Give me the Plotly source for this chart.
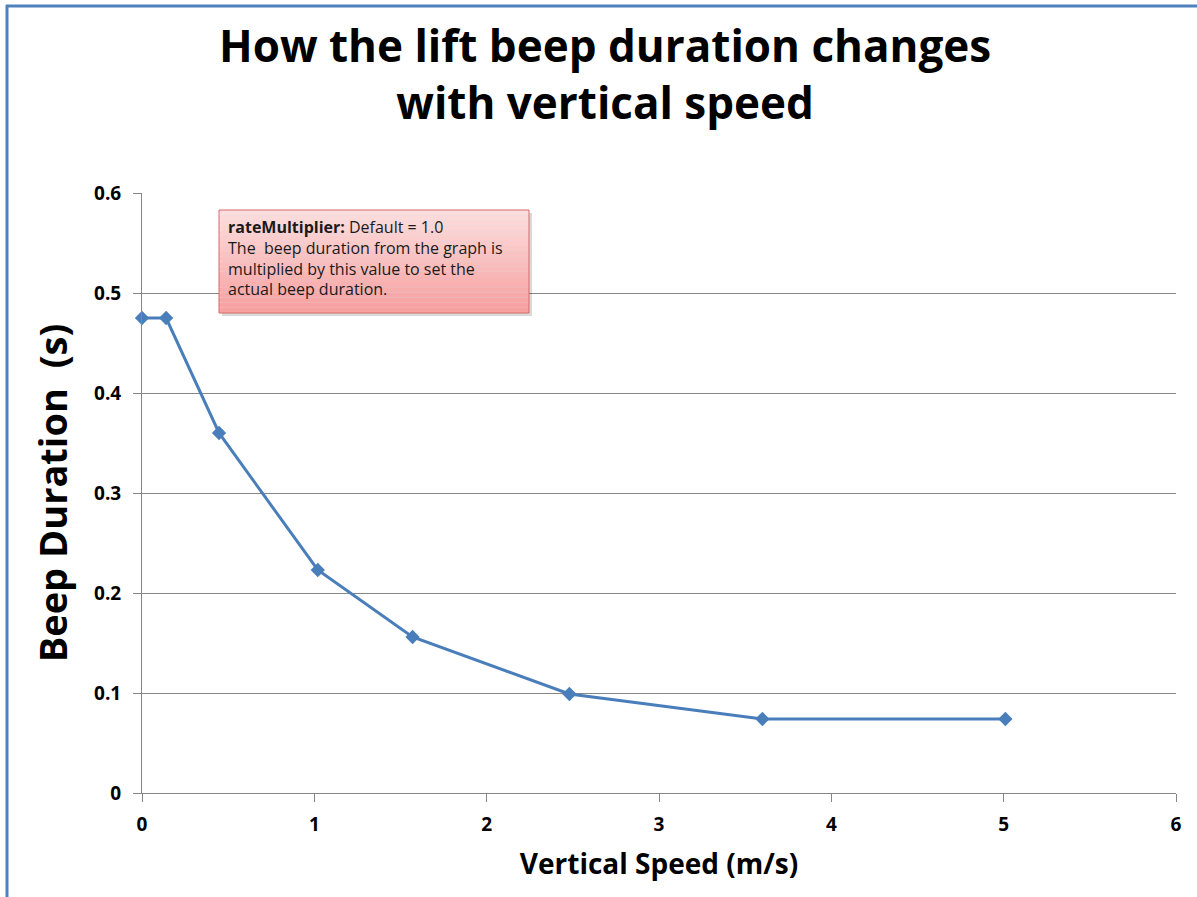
import plotly.graph_objects as go

speed = [0, 0.14, 0.447, 1.02, 1.57, 2.48, 3.6, 5.01]
duration = [0.475, 0.475, 0.36, 0.223, 0.156, 0.099, 0.074, 0.074]
x_ticks = [0, 1, 2, 3, 4, 5, 6]
y_ticks = [0, 0.1, 0.2, 0.3, 0.4, 0.5, 0.6]
y_tick_labels = ["0", "0.1", "0.2", "0.3", "0.4", "0.5", "0.6"]

W, H = 1197, 897
L, R, T, B = 142, 21, 193, 104
PW, PH = W - L - R, H - T - B

def px(xp):
    return (xp - L) / PW

def py(yp):
    return (H - B - yp) / PH

font = "'Open Sans', Lato, sans-serif"

fig = go.Figure()
fig.add_trace(go.Scatter(
    x=speed, y=duration, mode="lines+markers",
    line=dict(color="#4a7ebb", width=3),
    marker=dict(symbol="diamond", size=11, color="#4a7ebb"),
    showlegend=False, cliponaxis=False,
))

shapes = []
# outer border (top and left)
shapes.append(dict(type="line", xref="paper", yref="paper", x0=px(6), x1=px(1197), y0=py(6), y1=py(6),
                   line=dict(color="#4f81bd", width=3)))
shapes.append(dict(type="line", xref="paper", yref="paper", x0=px(7), x1=px(7), y0=py(5), y1=py(897),
                   line=dict(color="#4f81bd", width=3)))
# box shadow
shapes.append(dict(type="rect", xref="paper", yref="paper", x0=px(222), x1=px(532), y0=py(213), y1=py(316),
                   fillcolor="rgba(0,0,0,0.15)", line=dict(width=0)))
# gradient box
bx0, bx1, by0, by1 = 219, 529, 210, 313
n = 20
top_c = (253, 222, 222)
bot_c = (247, 160, 160)
for i in range(n):
    t = i / (n - 1)
    c = tuple(int(top_c[k] + (bot_c[k] - top_c[k]) * t) for k in range(3))
    ya = by0 + (by1 - by0) * i / n
    yb = by0 + (by1 - by0) * (i + 1) / n
    shapes.append(dict(type="rect", xref="paper", yref="paper", x0=px(bx0), x1=px(bx1), y0=py(ya), y1=py(yb),
                       fillcolor="rgb(%d,%d,%d)" % c, line=dict(width=0)))
shapes.append(dict(type="rect", xref="paper", yref="paper", x0=px(bx0), x1=px(bx1), y0=py(by0), y1=py(by1),
                   fillcolor="rgba(0,0,0,0)", line=dict(color="#d46a6a", width=1)))

annotations = [
    dict(xref="paper", yref="paper", x=px(226), y=py(214), xanchor="left", yanchor="top", align="left",
         showarrow=False, font=dict(family=font, size=16, color="#1a1a1a"),
         text="<b>rateMultiplier:</b> Default = 1.0<br>The  beep duration from the graph is<br>"
              "multiplied by this value to set the<br>actual beep duration."),
    dict(xref="paper", yref="paper", x=px(605), y=py(73), xanchor="center", yanchor="middle",
         showarrow=False, font=dict(family=font, size=44, color="#000000", weight="bold"),
         text="How the lift beep duration changes<br>with vertical speed"),
]

fig.update_layout(
    width=W, height=H,
    margin=dict(l=L, r=R, t=T, b=B),
    paper_bgcolor="white", plot_bgcolor="white",
    shapes=shapes, annotations=annotations,
    font=dict(family=font, color="#000000"),
    xaxis=dict(range=[0, 6], tickvals=x_ticks, ticks="outside", ticklen=8, tickcolor="#868686",
               ticklabelstandoff=6,
               showgrid=False, zeroline=False, showline=True, linecolor="#868686", linewidth=1,
               tickfont=dict(size=19, family=font, color="#000", weight="bold"),
               title=dict(text="Vertical Speed (m/s)", font=dict(size=28, family=font, weight="bold"),
                          standoff=18)),
    yaxis=dict(range=[0, 0.6], tickvals=y_ticks, ticktext=y_tick_labels, ticks="outside", ticklen=8,
               ticklabelstandoff=8,
               tickcolor="#868686", showgrid=True, gridcolor="#868686", gridwidth=1, zeroline=False,
               showline=True, linecolor="#868686", linewidth=1,
               tickfont=dict(size=19, family=font, color="#000", weight="bold"),
               title=dict(text="Beep Duration  (s)", font=dict(size=38, family=font, weight="bold"),
                          standoff=14)),
)

fig.write_html("out.html", config={"displayModeBar": False},
               post_script="document.body.style.margin='0px';")
